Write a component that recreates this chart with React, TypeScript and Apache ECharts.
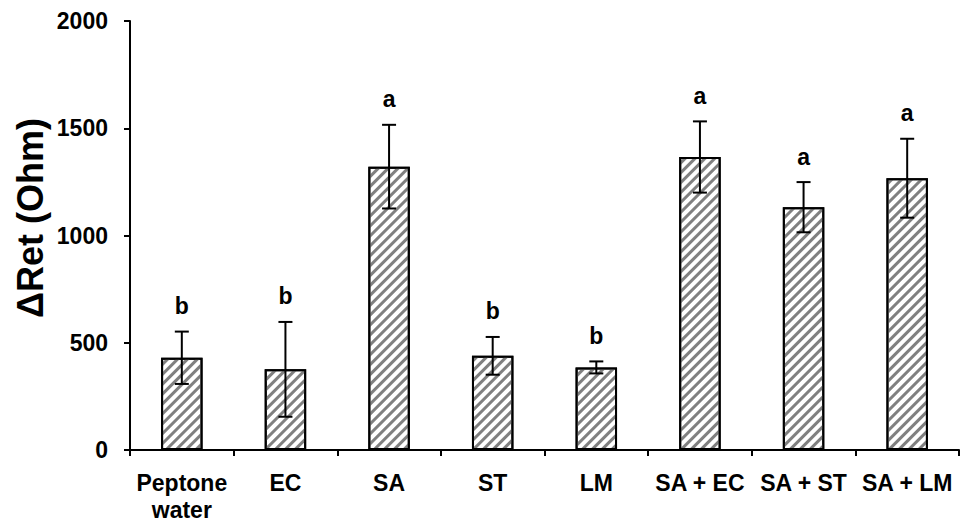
import React, { useEffect, useRef } from "react";
import * as echarts from "echarts";

const categories = ["Peptone\nwater", "EC", "SA", "ST", "LM", "SA + EC", "SA + ST", "SA + LM"];
const values = [430, 376, 1321, 439, 385, 1366, 1132, 1267];
const errors = [122, 221, 195, 88, 28, 166, 117, 184];
const letters = ["b", "b", "a", "b", "b", "a", "a", "a"];
const yTicks = [0, 500, 1000, 1500, 2000];
const yTitle = "ΔRet (Ohm)";

const FONT = "'Liberation Sans', Arial, sans-serif";

export default function App() {
  const ref = useRef<HTMLDivElement>(null);
  useEffect(() => {
    if (!ref.current) return;
    const chart = echarts.init(ref.current, undefined, { renderer: "svg" });
    const errData = values.map((v, i) => [i, v - errors[i], v + errors[i]]);
    chart.setOption({
      animation: false,
      grid: { left: 130, right: 4, top: 21, bottom: 71, containLabel: false },
      graphic: [
        {
          type: "text",
          x: 30,
          y: 218,
          rotation: Math.PI / 2,
          style: {
            text: yTitle,
            fill: "#000",
            font: `bold 36px ${FONT}`,
            align: "center",
            verticalAlign: "middle",
          },
        },
      ],
      xAxis: {
        type: "category",
        data: categories,
        axisLine: { lineStyle: { color: "#000", width: 2 } },
        axisTick: { show: true, length: 6, lineStyle: { color: "#000", width: 2 } },
        axisLabel: {
          color: "#000",
          fontFamily: FONT,
          fontWeight: "bold",
          fontSize: 23,
          margin: 19,
          lineHeight: 27,
          interval: 0,
        },
      },
      yAxis: {
        type: "value",
        min: yTicks[0],
        max: yTicks[yTicks.length - 1],
        interval: 500,
        splitLine: { show: false },
        axisLine: { show: true, lineStyle: { color: "#000", width: 2 } },
        axisTick: { show: true, length: 6, lineStyle: { color: "#000", width: 2 } },
        axisLabel: {
          color: "#000",
          fontFamily: FONT,
          fontWeight: "bold",
          fontSize: 23,
          margin: 22,
          formatter: (v: number) => String(v),
        },
      },
      series: [
        {
          type: "bar",
          data: values,
          barWidth: "40%",
          itemStyle: {
            color: "#ffffff",
            borderColor: "#000",
            borderWidth: 2,
            decal: {
              symbol: "rect",
              symbolSize: 1,
              color: "#808080",
              dashArrayX: [1, 0],
              dashArrayY: [3, 4],
              rotation: -Math.PI / 4,
            },
          },
        },
        {
          type: "custom",
          data: errData,
          z: 10,
          renderItem: (params: any, api: any) => {
            const i = api.value(0);
            const lo = api.coord([i, api.value(1)]);
            const hi = api.coord([i, api.value(2)]);
            const x = lo[0];
            const half = 7;
            const style = { stroke: "#000", lineWidth: 2 };
            return {
              type: "group",
              children: [
                { type: "line", shape: { x1: x, y1: lo[1], x2: x, y2: hi[1] }, style },
                { type: "line", shape: { x1: x - half, y1: lo[1], x2: x + half, y2: lo[1] }, style },
                { type: "line", shape: { x1: x - half, y1: hi[1], x2: x + half, y2: hi[1] }, style },
                {
                  type: "text",
                  x: x,
                  y: hi[1] - 14,
                  style: {
                    text: letters[params.dataIndex],
                    fill: "#000",
                    font: `bold 23px ${FONT}`,
                    align: "center",
                    verticalAlign: "bottom",
                  },
                },
              ],
            };
          },
        },
      ],
    });
    return () => chart.dispose();
  }, []);
  return <div ref={ref} style={{ width: 963, height: 523, position: "absolute", left: 0, top: 0, background: "#fff" }} />;
}
